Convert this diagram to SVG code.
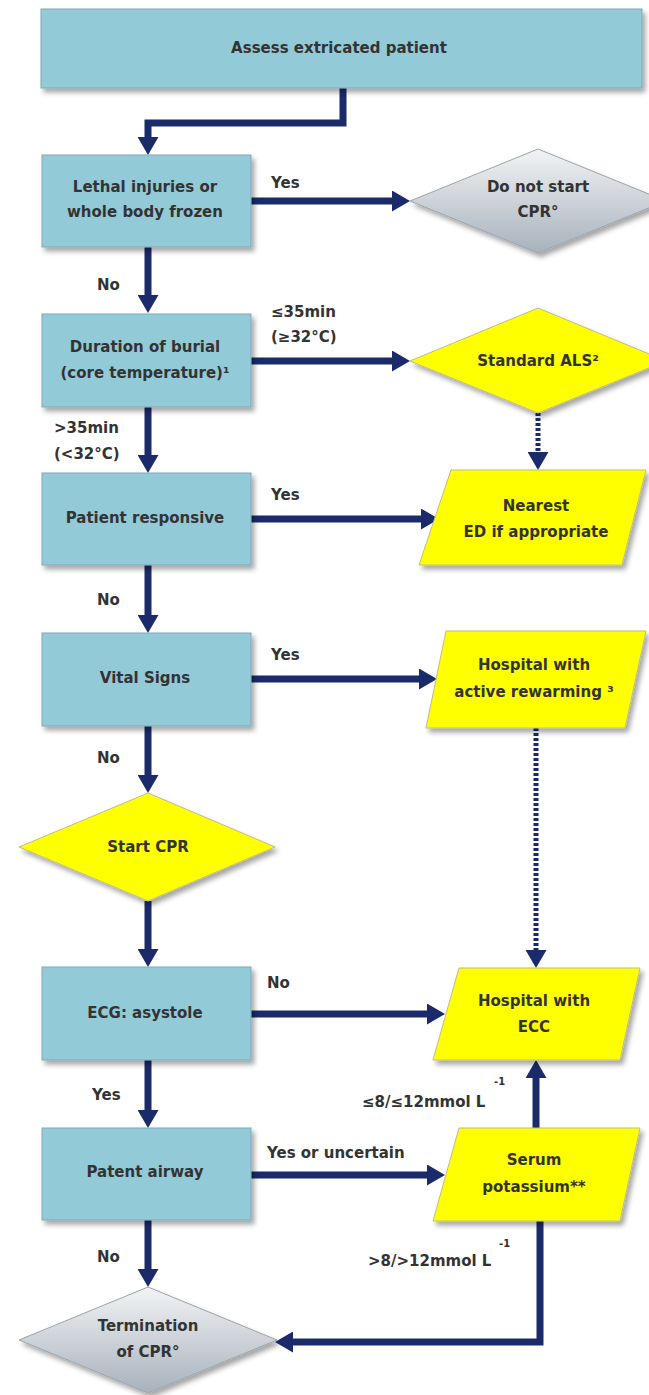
<svg xmlns="http://www.w3.org/2000/svg" width="649" height="1395" viewBox="0 0 649 1395">
<style>
text{font-family:"DejaVu Sans","Liberation Sans",sans-serif;font-weight:bold;font-size:15px;fill:#333}
.n text{text-anchor:middle}
.box{fill:#93cad8;stroke:#7ea9b6;stroke-width:1}
.yel{fill:#ffff00;stroke:#bdbd8a;stroke-width:1}
.gray{fill:url(#gg);stroke:#9aa4ac;stroke-width:1}
.c{fill:none;stroke:#1b2a6b;stroke-width:7;marker-end:url(#ah)}
.d{fill:none;stroke:#1b2a6b;stroke-width:5;stroke-dasharray:3 2;marker-end:url(#ah)}
.sup{font-size:10px}
</style>
<defs>
<linearGradient id="gg" x1="0" y1="0" x2="0" y2="1"><stop offset="0" stop-color="#f2f3f5"/><stop offset="1" stop-color="#a7b2bb"/></linearGradient>
<filter id="sh" x="-10%" y="-10%" width="130%" height="130%"><feDropShadow dx="3" dy="4" stdDeviation="2.5" flood-color="#000" flood-opacity="0.35"/></filter>
<marker id="ah" markerUnits="userSpaceOnUse" markerWidth="18" markerHeight="21" viewBox="0 0 18 21" refX="1" refY="10.5" orient="auto"><path d="M0,0 L18,10.5 L0,21 z" fill="#1b2a6b"/></marker>
</defs>
<g id="connectors">
<path class="c" d="M343,88 V123 H148 V138"/>
<path class="c" d="M251,201 H393"/>
<path class="c" d="M148,247 V296"/>
<path class="c" d="M251,361 H393"/>
<path class="d" d="M538,413 V453"/>
<path class="c" d="M148,407 V456"/>
<path class="c" d="M251,519 H422"/>
<path class="c" d="M148,565 V616"/>
<path class="c" d="M251,679 H420"/>
<path class="d" d="M536,728 V951"/>
<path class="c" d="M148,726 V776"/>
<path class="c" d="M148,901 V950"/>
<path class="c" d="M251,1014 H428"/>
<path class="c" d="M148,1060 V1111"/>
<path class="c" d="M251,1175 H428"/>
<path class="c" d="M536,1128 V1077"/>
<path class="c" d="M148,1220 V1270"/>
<path class="c" d="M540,1221 V1342 H292"/>
</g>
<g id="labels">
<text x="271" y="188">Yes</text>
<text x="97" y="290">No</text>
<text x="271" y="317">≤35min</text>
<text x="271" y="342">(≥32°C)</text>
<text x="54" y="433">&gt;35min</text>
<text x="54" y="459">(&lt;32°C)</text>
<text x="271" y="500">Yes</text>
<text x="97" y="605">No</text>
<text x="271" y="660">Yes</text>
<text x="97" y="763">No</text>
<text x="267" y="988">No</text>
<text x="92" y="1100">Yes</text>
<text x="267" y="1158">Yes or uncertain</text>
<text x="362" y="1107">≤8/≤12mmol L</text>
<text class="sup" x="494" y="1085">-1</text>
<text x="97" y="1262">No</text>
<text x="368" y="1266">&gt;8/&gt;12mmol L</text>
<text class="sup" x="499" y="1247">-1</text>
</g>
<g id="assess" class="n"><rect class="box" filter="url(#sh)" x="41" y="9" width="601" height="79"/><text x="339" y="53">Assess extricated patient</text></g>
<g id="lethal" class="n"><rect class="box" filter="url(#sh)" x="42" y="155" width="209" height="92"/><text x="145" y="192">Lethal injuries or</text><text x="145" y="217">whole body frozen</text></g>
<g id="donotstart" class="n"><polygon class="gray" filter="url(#sh)" points="410,201 538,149 666,201 538,253"/><text x="538" y="192">Do not start</text><text x="538" y="217">CPR°</text></g>
<g id="duration" class="n"><rect class="box" filter="url(#sh)" x="42" y="314" width="209" height="93"/><text x="145" y="352">Duration of burial</text><text x="145" y="378">(core temperature)¹</text></g>
<g id="als" class="n"><polygon class="yel" filter="url(#sh)" points="410,361 538,308 666,361 538,413"/><text x="538" y="366">Standard ALS²</text></g>
<g id="responsive" class="n"><rect class="box" filter="url(#sh)" x="42" y="473" width="209" height="92"/><text x="145" y="523">Patient responsive</text></g>
<g id="nearest" class="n"><polygon class="yel" filter="url(#sh)" points="451,470 646,470 622,565 419,565"/><text x="536" y="511">Nearest</text><text x="536" y="537">ED if appropriate</text></g>
<g id="vital" class="n"><rect class="box" filter="url(#sh)" x="42" y="633" width="209" height="93"/><text x="145" y="683">Vital Signs</text></g>
<g id="rewarming" class="n"><polygon class="yel" filter="url(#sh)" points="446,631 646,631 625,728 426,728"/><text x="534" y="670">Hospital with</text><text x="534" y="697">active rewarming ³</text></g>
<g id="startcpr" class="n"><polygon class="yel" filter="url(#sh)" points="19,847 148,793 275,847 148,901"/><text x="148" y="852">Start CPR</text></g>
<g id="ecg" class="n"><rect class="box" filter="url(#sh)" x="42" y="967" width="209" height="93"/><text x="145" y="1018">ECG: asystole</text></g>
<g id="ecc" class="n"><polygon class="yel" filter="url(#sh)" points="459,968 640,968 620,1060 433,1060"/><text x="534" y="1006">Hospital with</text><text x="534" y="1032">ECC</text></g>
<g id="airway" class="n"><rect class="box" filter="url(#sh)" x="42" y="1128" width="209" height="92"/><text x="145" y="1177">Patent airway</text></g>
<g id="serum" class="n"><polygon class="yel" filter="url(#sh)" points="459,1128 640,1128 620,1221 433,1221"/><text x="534" y="1165">Serum</text><text x="534" y="1192">potassium**</text></g>
<g id="termination" class="n"><polygon class="gray" filter="url(#sh)" points="19,1340 148,1287 277,1340 148,1393"/><text x="148" y="1331">Termination</text><text x="148" y="1357">of CPR°</text></g>
</svg>
